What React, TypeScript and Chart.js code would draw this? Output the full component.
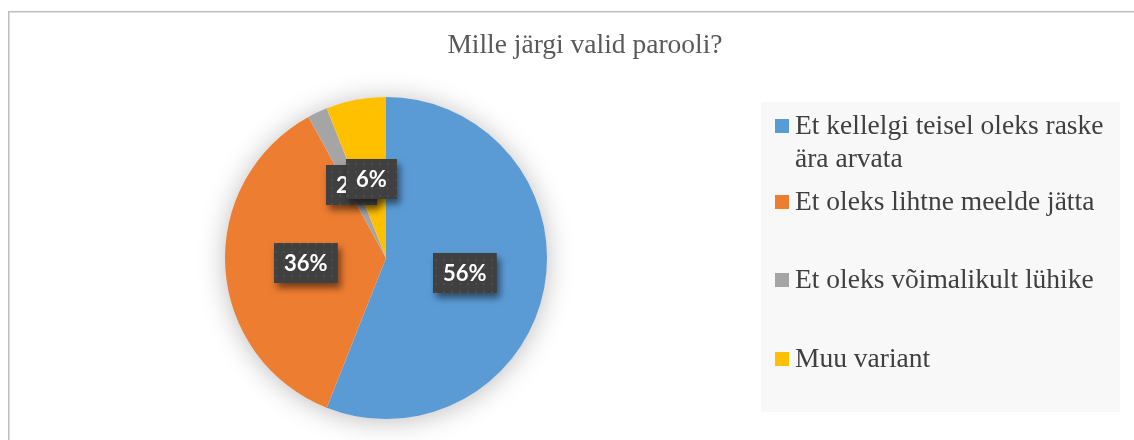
import React, { useEffect, useRef } from "react";
import { Chart, registerables } from "chart.js";

Chart.register(...registerables);

const TITLE = "Mille järgi valid parooli?";
const CATEGORIES = [
  "Et kellelgi teisel oleks raske ära arvata",
  "Et oleks lihtne meelde jätta",
  "Et oleks võimalikult lühike",
  "Muu variant",
];
const VALUES = [56, 36, 2, 6];
const COLORS = ["#5B9BD5", "#ED7D31", "#A5A5A5", "#FFC000"];
const LEGEND_BASELINES = [134, 210, 288, 367];

function makePattern(ctx: CanvasRenderingContext2D) {
  const c = document.createElement("canvas");
  c.width = 8;
  c.height = 8;
  const p = c.getContext("2d")!;
  p.fillStyle = "#404040";
  p.fillRect(0, 0, 8, 8);
  p.fillStyle = "#4c4c4c";
  p.fillRect(3, 3, 2, 2);
  return ctx.createPattern(c, "repeat");
}

const pieShadow = {
  id: "pieShadow",
  beforeDatasetsDraw(chart: any) {
    const meta = chart.getDatasetMeta(0);
    const arc = meta.data[0];
    if (!arc) return;
    const ctx = chart.ctx;
    ctx.save();
    ctx.shadowColor = "rgba(0,0,0,0.28)";
    ctx.shadowBlur = 28;
    ctx.shadowOffsetX = 0;
    ctx.shadowOffsetY = 2;
    ctx.beginPath();
    ctx.arc(arc.x, arc.y, arc.outerRadius - 1, 0, Math.PI * 2);
    ctx.fillStyle = "#ffffff";
    ctx.fill();
    ctx.restore();
  },
};

const boxLabels = {
  id: "boxLabels",
  afterDatasetsDraw(chart: any) {
    const meta = chart.getDatasetMeta(0);
    const ctx: CanvasRenderingContext2D = chart.ctx;
    const pattern = makePattern(ctx);
    const data = chart.data.datasets[0].data as number[];
    const total = data.reduce((a, b) => a + b, 0);
    meta.data.forEach((arc: any, i: number) => {
      const mid = (arc.startAngle + arc.endAngle) / 2;
      const r = arc.outerRadius * 0.5;
      const cx = arc.x + Math.cos(mid) * r;
      const cy = arc.y + Math.sin(mid) * r;
      const text = Math.round((data[i] / total) * 100) + "%";
      ctx.save();
      ctx.font = "bold 22px Lato";
      const w = ctx.measureText(text).width + 20;
      const h = 40;
      const x = Math.round(cx - w / 2);
      const y = Math.round(cy - h / 2);
      ctx.shadowColor = "rgba(0,0,0,0.5)";
      ctx.shadowBlur = 7;
      ctx.shadowOffsetX = 3;
      ctx.shadowOffsetY = 5;
      ctx.fillStyle = "#404040";
      ctx.fillRect(x, y, w, h);
      ctx.shadowColor = "transparent";
      ctx.fillStyle = pattern || "#404040";
      ctx.fillRect(x, y, w, h);
      ctx.fillStyle = "#ffffff";
      ctx.textAlign = "center";
      ctx.textBaseline = "middle";
      ctx.fillText(text, x + w / 2, y + h / 2 + 1);
      ctx.restore();
    });
  },
};

export default function App() {
  const ref = useRef<HTMLCanvasElement>(null);
  useEffect(() => {
    if (!ref.current) return;
    const chart = new Chart(ref.current, {
      type: "pie",
      data: {
        labels: CATEGORIES,
        datasets: [
          {
            data: VALUES,
            backgroundColor: COLORS,
            borderWidth: 0,
          },
        ],
      },
      options: {
        responsive: false,
        animation: false,
        devicePixelRatio: 1,
        layout: { padding: { left: 225, right: 587, top: 97, bottom: 21 } },
        plugins: {
          legend: { display: false },
          title: { display: false },
          tooltip: { enabled: false },
        },
      },
      plugins: [pieShadow, boxLabels],
    });
    return () => chart.destroy();
  }, []);

  const fs = 27.5;
  const lh = 33;
  const baseOff = (lh - 1.107 * fs) / 2 + 0.891 * fs;

  return (
    <div
      style={{
        position: "fixed",
        left: 0,
        top: 0,
        width: 1134,
        height: 440,
        overflow: "hidden",
        background: "#fff",
        fontFamily: "'Liberation Serif', 'Times New Roman', serif",
      }}
    >
      <div
        style={{
          position: "absolute",
          left: 8,
          top: 11,
          width: 1200,
          height: 500,
          borderLeft: "1px solid #bdbdbd",
          borderTop: "1px solid #bdbdbd",
          boxShadow: "inset 1px 1px 0 #dedede",
        }}
      />
      <div
        style={{
          position: "absolute",
          left: 761,
          top: 102,
          width: 359,
          height: 310,
          background: "#f8f8f8",
        }}
      />
      <canvas
        ref={ref}
        width={1134}
        height={440}
        style={{ position: "absolute", left: 0, top: 0, width: 1134, height: 440 }}
      />
      <div
        style={{
          position: "absolute",
          left: 385,
          width: 400,
          top: 53 - baseOff,
          textAlign: "center",
          fontSize: fs,
          lineHeight: lh + "px",
          color: "#595959",
          whiteSpace: "nowrap",
        }}
      >
        {TITLE}
      </div>
      {CATEGORIES.map((c, i) => (
        <React.Fragment key={c}>
          <div
            style={{
              position: "absolute",
              left: 775,
              top: LEGEND_BASELINES[i] - 15,
              width: 14,
              height: 14,
              background: COLORS[i],
            }}
          />
          <div
            style={{
              position: "absolute",
              left: 795,
              top: LEGEND_BASELINES[i] - baseOff,
              width: 322,
              fontSize: fs,
              lineHeight: lh + "px",
              color: "#404040",
            }}
          >
            {c}
          </div>
        </React.Fragment>
      ))}
    </div>
  );
}
